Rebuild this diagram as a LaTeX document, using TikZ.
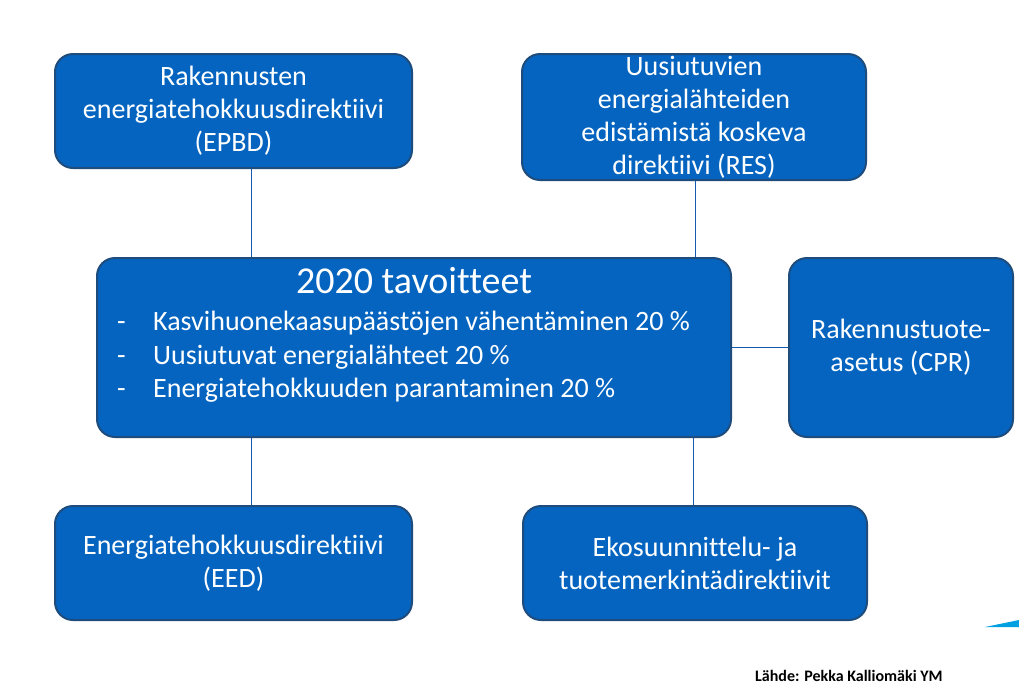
\documentclass[tikz,border=0pt]{standalone}
\usepackage{fontspec}
\setmainfont{Carlito}[Ligatures=NoCommon]
\definecolor{boxfill}{RGB}{4,100,192}
\definecolor{boxdraw}{RGB}{30,76,124}
\definecolor{linkc}{RGB}{20,90,175}
\definecolor{wedgec}{RGB}{0,160,225}
\tikzset{
  box/.style={draw=boxdraw, line width=2pt, fill=boxfill, rounded corners=18pt,
    text=white, inner sep=0pt, align=center, font=\fontsize{28}{33}\selectfont},
  goal/.style={text=white, font=\fontsize{28}{33}\selectfont, anchor=base west, inner sep=0pt},
  link/.style={draw=linkc, line width=1pt}
}
\begin{document}
\begin{tikzpicture}[x=1pt,y=-1pt]
\useasboundingbox[fill=white] (0,0) rectangle (1019,689);
\node[box, minimum width=357pt, minimum height=114pt] (epbd) at (233.5,111)
  {Rakennusten\\energiatehokkuusdirektiivi\\(EPBD)};
\node[box, minimum width=344pt, minimum height=126pt] (res) at (694,117)
  {Uusiutuvien\\energialähteiden\\edistämistä koskeva\\direktiivi (RES)};
\node[box, minimum width=634pt, minimum height=179pt] (ctr) at (414,347.5) {};
\node[text=white, font=\fontsize{38}{42}\selectfont, anchor=base, inner sep=0pt] (title) at (414,293) {2020 tavoitteet};
\node[goal] (g1) at (117,330) {\makebox[36pt][l]{-}Kasvihuonekaasupäästöjen vähentäminen 20 \%};
\node[goal] (g2) at (117,364) {\makebox[36pt][l]{-}Uusiutuvat energialähteet 20 \%};
\node[goal] (g3) at (117,397) {\makebox[36pt][l]{-}Energiatehokkuuden parantaminen 20 \%};
\node[box, minimum width=224pt, minimum height=179pt] (cpr) at (901,347.5)
  {Rakennustuote-\\asetus (CPR)};
\node[box, minimum width=357pt, minimum height=114pt] (eed) at (233.5,563)
  {Energiatehokkuusdirektiivi\\(EED)};
\node[box, minimum width=344pt, minimum height=114pt] (eco) at (695,563)
  {Ekosuunnittelu- ja\\tuotemerkintädirektiivit};
\coordinate (xa) at (251,0);
\coordinate (xb) at (695,0);
\coordinate (xc) at (693,0);
\coordinate (yh) at (0,347);
\draw[link] (epbd.south -| xa) -- (ctr.north -| xa);
\draw[link] (res.south -| xb) -- (ctr.north -| xb);
\draw[link] (ctr.south -| xa) -- (eed.north -| xa);
\draw[link] (ctr.south -| xc) -- (eco.north -| xc);
\draw[link] (ctr.east |- yh) -- (cpr.west |- yh);
\fill[wedgec] (985,627) -- (1019,620) -- (1019,627) -- cycle;
\node[font=\bfseries\fontsize{16}{18}\selectfont, anchor=base west, inner sep=0pt] (src) at (755,681)
  {Lähde: Pekka Kalliomäki YM};
\end{tikzpicture}
\end{document}
